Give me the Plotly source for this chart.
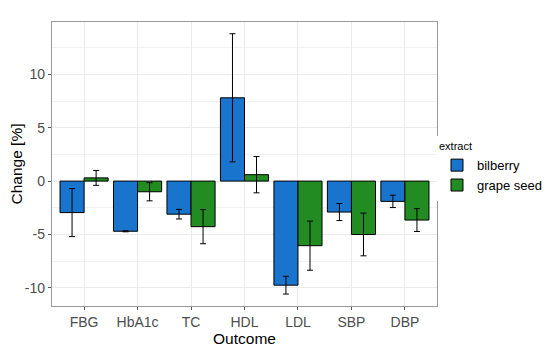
import plotly.graph_objects as go

outcomes = ["FBG", "HbA1c", "TC", "HDL", "LDL", "SBP", "DBP"]
bilberry = [-2.95, -4.7, -3.1, 7.8, -9.75, -2.9, -1.9]
bilberry_err = [2.25, 0.05, 0.45, 6.0, 0.83, 0.8, 0.58]
grape = [0.3, -1.0, -4.27, 0.6, -6.05, -5.0, -3.65]
grape_err = [0.7, 0.85, 1.6, 1.7, 2.3, 2.0, 1.07]

BLUE = "#1874CD"
GREEN = "#228B22"

fig = go.Figure()
for name, vals, errs, col in [("bilberry", bilberry, bilberry_err, BLUE),
                              ("grape seed", grape, grape_err, GREEN)]:
    fig.add_trace(go.Bar(
        x=outcomes, y=vals, name=name,
        marker=dict(color=col, line=dict(color="black", width=1)),
        error_y=dict(type="data", array=errs, visible=True, color="black", thickness=1, width=3),
    ))

fig.update_layout(
    width=542, height=341,
    margin=dict(l=44, r=111, t=14, b=43),
    barmode="group", bargap=0.1, bargroupgap=0,
    plot_bgcolor="white", paper_bgcolor="white",
    font=dict(family="Arial, Liberation Sans, sans-serif", color="black"),
    xaxis=dict(
        title=dict(text="Outcome", font=dict(size=15.5, color="black"), standoff=2),
        range=[-0.6, 6.6], automargin=False,
        tickfont=dict(size=14, color="#4D4D4D"),
        showgrid=True, gridcolor="#EBEBEB", gridwidth=1,
        ticks="outside", ticklen=3, tickcolor="#555555",
        showline=True, linecolor="#999999", linewidth=1.3, mirror=True,
        zeroline=False,
    ),
    yaxis=dict(
        title=dict(text="Change [%]", font=dict(size=15.5, color="black"), standoff=4),
        range=[-11.7, 14.9], automargin=False,
        tickvals=[-10, -5, 0, 5, 10],
        ticktext=["-10", "-5", "0", "5", "10"],
        tickfont=dict(size=14, color="#4D4D4D"),
        showgrid=True, gridcolor="#EBEBEB", gridwidth=1,
        minor=dict(tickvals=[-7.5, -2.5, 2.5, 7.5, 12.5], showgrid=True, gridcolor="#F2F2F2", gridwidth=0.6, ticks=""),
        ticks="outside", ticklen=3, tickcolor="#555555",
        showline=True, linecolor="#999999", linewidth=1.3, mirror=True,
        zeroline=False,
    ),
    legend=dict(
        title=dict(text="extract", font=dict(size=11, color="black")),
        font=dict(size=13, color="black"),
        xref="container", yref="container",
        x=0.7915, xanchor="left", y=0.625, yanchor="top",
        tracegroupgap=0, itemwidth=30,
    ),
)

fig.write_html("out.html")
